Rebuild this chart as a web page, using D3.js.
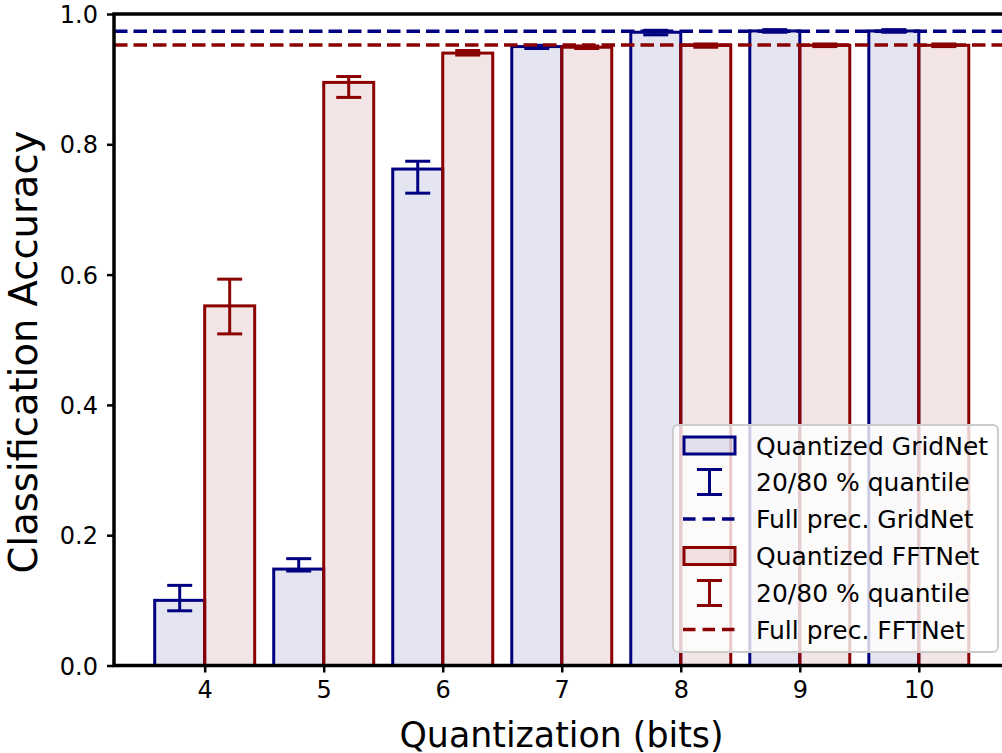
<!DOCTYPE html>
<html lang="en">
<head>
<meta charset="UTF-8">
<title>Quantization accuracy</title>
<script src="https://cdn.jsdelivr.net/npm/d3@7"></script>
<style>
  body { margin: 0; background: #fff; }
  text { font-family: "DejaVu Sans", sans-serif; fill: #000; }
</style>
</head>
<body>
<div id="chart"></div>
<script>
// data
var bits = [4, 5, 6, 7, 8, 9, 10];
var gridAcc = [0.100, 0.148, 0.762, 0.950, 0.972, 0.974, 0.974];
var gridLo  = [0.084, 0.145, 0.725, 0.947, 0.968, 0.972, 0.972];
var gridHi  = [0.123, 0.164, 0.774, 0.952, 0.975, 0.976, 0.976];
var fftAcc  = [0.552, 0.895, 0.940, 0.949, 0.952, 0.952, 0.952];
var fftLo   = [0.509, 0.872, 0.937, 0.947, 0.949, 0.950, 0.950];
var fftHi   = [0.593, 0.904, 0.944, 0.951, 0.954, 0.954, 0.954];
var gridFull = 0.9737;
var fftFull = 0.9524;
var yTicks = [0, 0.2, 0.4, 0.6, 0.8, 1.0];
var legendLabels = ["Quantized GridNet", "20/80 % quantile", "Full prec. GridNet",
                    "Quantized FFTNet", "20/80 % quantile", "Full prec. FFTNet"];

var navy = "#000080";
var darkred = "#8b0000";
var barW = 0.42;
var dash = "13.5,6";

var svg = d3.select("#chart").append("svg").attr("width", 1002).attr("height", 753);

var x = d3.scaleLinear().domain([3.238, 10.762]).range([114, 1009.5]);
var y = d3.scaleLinear().domain([0, 1]).range([665.5, 14]);

// bars
function drawBars(vals, offset, color) {
  svg.append("g").selectAll("rect").data(vals).enter().append("rect")
    .attr("x", function(d, i) { return x(bits[i] + offset); })
    .attr("y", function(d) { return y(d); })
    .attr("width", function(d, i) { return x(bits[i] + offset + barW) - x(bits[i] + offset); })
    .attr("height", function(d) { return y(0) - y(d); })
    .attr("fill", color).attr("fill-opacity", 0.1)
    .attr("stroke", color).attr("stroke-width", 3);
}

function drawErr(lo, hi, offset, color) {
  var g = svg.append("g").attr("stroke", color).attr("stroke-width", 3);
  bits.forEach(function(b, i) {
    var cx = x(b + offset + barW / 2);
    g.append("line").attr("x1", cx).attr("x2", cx).attr("y1", y(lo[i])).attr("y2", y(hi[i]));
    g.append("line").attr("x1", cx - 12.5).attr("x2", cx + 12.5).attr("y1", y(lo[i])).attr("y2", y(lo[i]));
    g.append("line").attr("x1", cx - 12.5).attr("x2", cx + 12.5).attr("y1", y(hi[i])).attr("y2", y(hi[i]));
  });
}

drawBars(gridAcc, -barW, navy);
drawBars(fftAcc, 0, darkred);
drawErr(gridLo, gridHi, -barW, navy);
drawErr(fftLo, fftHi, 0, darkred);

// full precision lines
[[gridFull, navy], [fftFull, darkred]].forEach(function(d) {
  svg.append("line")
    .attr("x1", x.range()[0]).attr("x2", x.range()[1])
    .attr("y1", y(d[0])).attr("y2", y(d[0]))
    .attr("stroke", d[1]).attr("stroke-width", 3.5)
    .attr("stroke-dasharray", dash);
});

// axes
var xAxis = d3.axisBottom(x).tickValues(bits).tickFormat(d3.format("d")).tickSize(7).tickPadding(8);
var gx = svg.append("g").attr("transform", "translate(0," + y(0) + ")").call(xAxis);
var yAxis = d3.axisLeft(y).tickValues(yTicks).tickFormat(d3.format(".1f")).tickSize(7).tickPadding(9);
var gy = svg.append("g").attr("transform", "translate(" + x.range()[0] + ",0)").call(yAxis);
[gx, gy].forEach(function(g) {
  g.select(".domain").remove();
  g.selectAll(".tick line").attr("stroke", "#000").attr("stroke-width", 2.5);
  g.selectAll(".tick text").style("font-size", "24px").attr("fill", "#000");
});
gy.selectAll(".tick text").attr("dy", "0.36em");

// frame
svg.append("rect")
  .attr("x", x.range()[0]).attr("y", y(1))
  .attr("width", x.range()[1] - x.range()[0]).attr("height", y(0) - y(1))
  .attr("fill", "none").attr("stroke", "#000").attr("stroke-width", 3.5);

// axis labels
svg.append("text").attr("x", 561.5).attr("y", 746.5).attr("text-anchor", "middle")
  .style("font-size", "34.8px").text("Quantization (bits)");
svg.append("text").attr("transform", "translate(37,352) rotate(-90)").attr("text-anchor", "middle")
  .style("font-size", "38.5px").text("Classification Accuracy");

// legend
var lg = svg.append("g");
lg.append("rect").attr("x", 673).attr("y", 425).attr("width", 325).attr("height", 227).attr("rx", 5)
  .attr("fill", "#fff").attr("fill-opacity", 0.8).attr("stroke", "#cccccc").attr("stroke-width", 2);
var rowY = [445.5, 482, 519, 556, 593, 629.5];
var rowColor = [navy, navy, navy, darkred, darkred, darkred];
legendLabels.forEach(function(lab, i) {
  var cy = rowY[i], c = rowColor[i], kind = i % 3;
  if (kind == 0) {
    lg.append("rect").attr("x", 684).attr("y", cy - 8.5).attr("width", 51).attr("height", 17)
      .attr("fill", c).attr("fill-opacity", 0.1).attr("stroke", c).attr("stroke-width", 3);
  } else if (kind == 1) {
    lg.append("line").attr("x1", 709.5).attr("x2", 709.5).attr("y1", cy - 12.5).attr("y2", cy + 12.5)
      .attr("stroke", c).attr("stroke-width", 3);
    lg.append("line").attr("x1", 697).attr("x2", 722).attr("y1", cy - 12.5).attr("y2", cy - 12.5)
      .attr("stroke", c).attr("stroke-width", 3);
    lg.append("line").attr("x1", 697).attr("x2", 722).attr("y1", cy + 12.5).attr("y2", cy + 12.5)
      .attr("stroke", c).attr("stroke-width", 3);
  } else {
    lg.append("line").attr("x1", 683).attr("x2", 735).attr("y1", cy).attr("y2", cy)
      .attr("stroke", c).attr("stroke-width", 3.5).attr("stroke-dasharray", "12.5,7");
  }
  lg.append("text").attr("x", 756).attr("y", cy + 9.1)
    .style("font-size", "25px").text(lab);
});
</script>
</body>
</html>
